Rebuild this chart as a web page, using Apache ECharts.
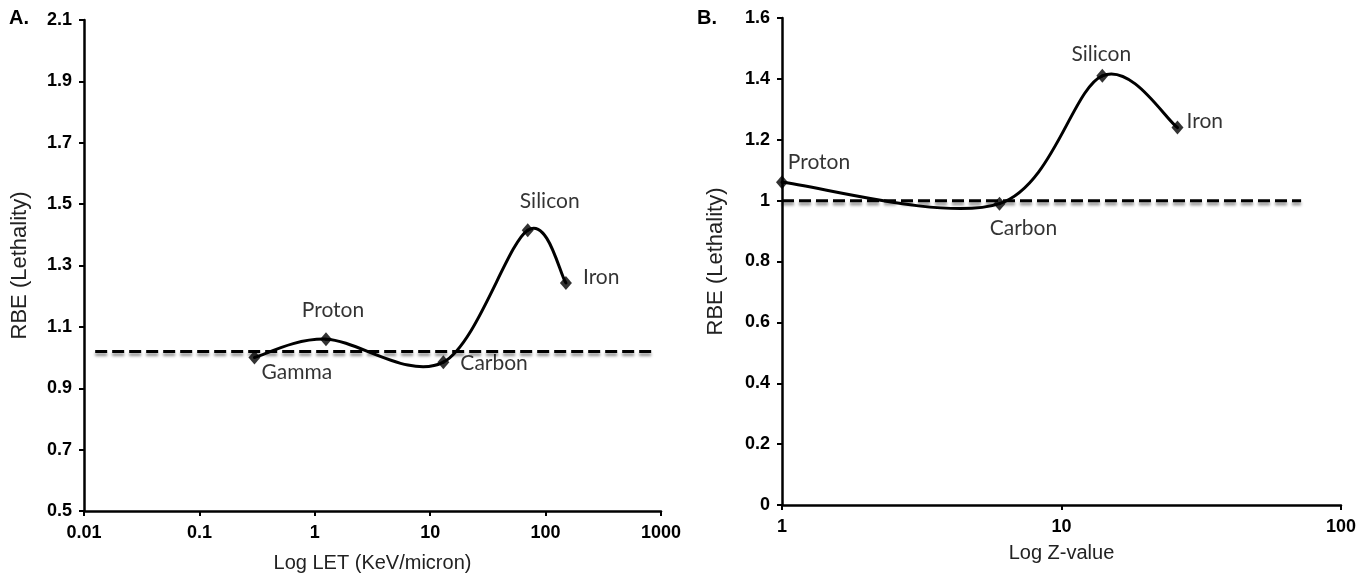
<!DOCTYPE html>
<html><head><meta charset="utf-8">
<script src="https://cdn.jsdelivr.net/npm/echarts@6/dist/echarts.min.js"></script>
<style>html,body{margin:0;padding:0;background:#fff}#c{width:1359px;height:578px}</style>
</head><body><div id="c"></div>
<script>
// ---- Panel A data ----
const particlesA = ['Gamma', 'Proton', 'Carbon', 'Silicon', 'Iron'];
const letA = [0.3, 1.25, 13, 70, 150];
const rbeA = [1.0, 1.06, 0.985, 1.415, 1.243];
const refLineAx = [0.0125, 900];
const refLineAy = 1.02;
const xRangeA = [0.01, 1000];
const yRangeA = [0.5, 2.1];
const yStepA = 0.2;
// ---- Panel B data ----
const particlesB = ['Proton', 'Carbon', 'Silicon', 'Iron'];
const zB = [1, 6, 14, 26];
const rbeB = [1.06, 0.99, 1.41, 1.24];
const refLineBx = [1, 72];
const refLineBy = 1.0;
const xRangeB = [1, 100];
const yRangeB = [0, 1.6];
const yStepB = 0.2;

// label placement (style only)
const labelStyleA = {
  Gamma:   {position: 'right', distance: 1, offset: [0, 15]},
  Proton:  {position: 'top', distance: 5, offset: [7, -6]},
  Carbon:  {position: 'right', distance: 11, offset: [0, 1]},
  Silicon: {position: 'top', distance: 5, offset: [22, -6]},
  Iron:    {position: 'right', distance: 11, offset: [0, -6]}
};
const labelStyleB = {
  Proton:  {position: 'top', distance: 5, offset: [37, 2]},
  Carbon:  {position: 'bottom', distance: 5, offset: [24, 2]},
  Silicon: {position: 'top', distance: 5, offset: [-1, 1]},
  Iron:    {position: 'right', distance: 3, offset: [0, -6]}
};

const SANS = 'Liberation Sans, Arial, sans-serif';
const TICK_FONT = {fontFamily: SANS, fontWeight: 'bold', fontSize: 18, color: '#000'};
const PT_FONT = {fontFamily: 'Lato, Open Sans, sans-serif', fontSize: 21, color: '#000'};
const fmtNum = v => String(+Number(v).toPrecision(6));

function xAxisLog(gi, range, name, gap) {
  return {
    type: 'log', logBase: 10, gridIndex: gi, min: range[0], max: range[1],
    axisLine: {lineStyle: {color: '#000', width: 2.5}},
    axisTick: {show: true, inside: false, length: 5, lineStyle: {color: '#000', width: 2}},
    minorTick: {show: false},
    splitLine: {show: false},
    axisLabel: Object.assign({margin: 13, formatter: fmtNum}, TICK_FONT),
    name: name, nameLocation: 'middle', nameGap: gap,
    nameTextStyle: {fontFamily: SANS, fontSize: 20, color: '#222'}
  };
}
function yAxisVal(gi, range, step, gap) {
  return {
    type: 'value', gridIndex: gi, min: range[0], max: range[1], interval: step,
    axisLine: {show: true, lineStyle: {color: '#000', width: 2.5}},
    axisTick: {show: true, inside: false, length: 5, lineStyle: {color: '#000', width: 2}},
    splitLine: {show: false},
    axisLabel: Object.assign({margin: 12, formatter: fmtNum}, TICK_FONT),
    name: 'RBE (Lethality)', nameLocation: 'middle', nameGap: gap, nameRotate: 90,
    nameTextStyle: {fontFamily: SANS, fontSize: 22, color: '#222'}
  };
}

// Excel-like (Catmull-Rom) smoothed line through the data points, mapped by the axes
function smoothCurve(xs, ys, idx) {
  const n = xs.length;
  return {
    type: 'custom', coordinateSystem: 'cartesian2d', xAxisIndex: idx, yAxisIndex: idx,
    data: xs.map((x, i) => [x, ys[i]]), encode: {x: 0, y: 1}, silent: true, z: 3,
    renderItem: function (params, api) {
      const i = params.dataIndex;
      if (i >= n - 1) return null;
      const P = k => { k = Math.max(0, Math.min(n - 1, k)); return api.coord([xs[k], ys[k]]); };
      const p0 = P(i - 1), p1 = P(i), p2 = P(i + 1), p3 = P(i + 2);
      const t = 1 / 6;
      return {
        type: 'bezierCurve',
        shape: {
          x1: p1[0], y1: p1[1], x2: p2[0], y2: p2[1],
          cpx1: p1[0] + (p2[0] - p0[0]) * t, cpy1: p1[1] + (p2[1] - p0[1]) * t,
          cpx2: p2[0] - (p3[0] - p1[0]) * t, cpy2: p2[1] - (p3[1] - p1[1]) * t
        },
        style: {stroke: '#000', lineWidth: 3, fill: null, lineCap: 'round'}
      };
    }
  };
}
function markers(names, xs, ys, idx, lstyle) {
  return {
    type: 'scatter', xAxisIndex: idx, yAxisIndex: idx, symbol: 'diamond', symbolSize: [12, 14],
    itemStyle: {color: '#000'}, z: 5, silent: true,
    data: names.map((nm, i) => ({
      name: nm, value: [xs[i], ys[i]],
      label: Object.assign({show: true, formatter: '{b}'}, PT_FONT, lstyle[nm])
    }))
  };
}
function refLine(xs, y, idx) {
  return {
    type: 'line', xAxisIndex: idx, yAxisIndex: idx, symbol: 'none', silent: true, z: 2,
    data: xs.map(x => [x, y]),
    lineStyle: {color: '#000', width: 3, type: [12, 5],
      shadowColor: 'rgba(0,0,0,0.45)', shadowBlur: 3, shadowOffsetY: 3}
  };
}

const chart = echarts.init(document.getElementById('c'));
chart.setOption({
  backgroundColor: '#fff',
  animation: false,
  grid: [
    {left: 84, top: 20, width: 577, height: 491},
    {left: 782, top: 18, width: 559, height: 487}
  ],
  xAxis: [xAxisLog(0, xRangeA, 'Log LET (KeV/micron)', 42), xAxisLog(1, xRangeB, 'Log Z-value', 38)],
  yAxis: [yAxisVal(0, yRangeA, yStepA, 53), yAxisVal(1, yRangeB, yStepB, 55)],
  graphic: [
    {type: 'text', left: 9, top: 8, style: {text: 'A.', font: 'bold 20px Liberation Sans, Arial', fill: '#000'}},
    {type: 'text', left: 697, top: 8, style: {text: 'B.', font: 'bold 20px Liberation Sans, Arial', fill: '#000'}}
  ],
  series: [
    refLine(refLineAx, refLineAy, 0),
    smoothCurve(letA, rbeA, 0),
    markers(particlesA, letA, rbeA, 0, labelStyleA),
    refLine(refLineBx, refLineBy, 1),
    smoothCurve(zB, rbeB, 1),
    markers(particlesB, zB, rbeB, 1, labelStyleB)
  ]
});
</script></body></html>
